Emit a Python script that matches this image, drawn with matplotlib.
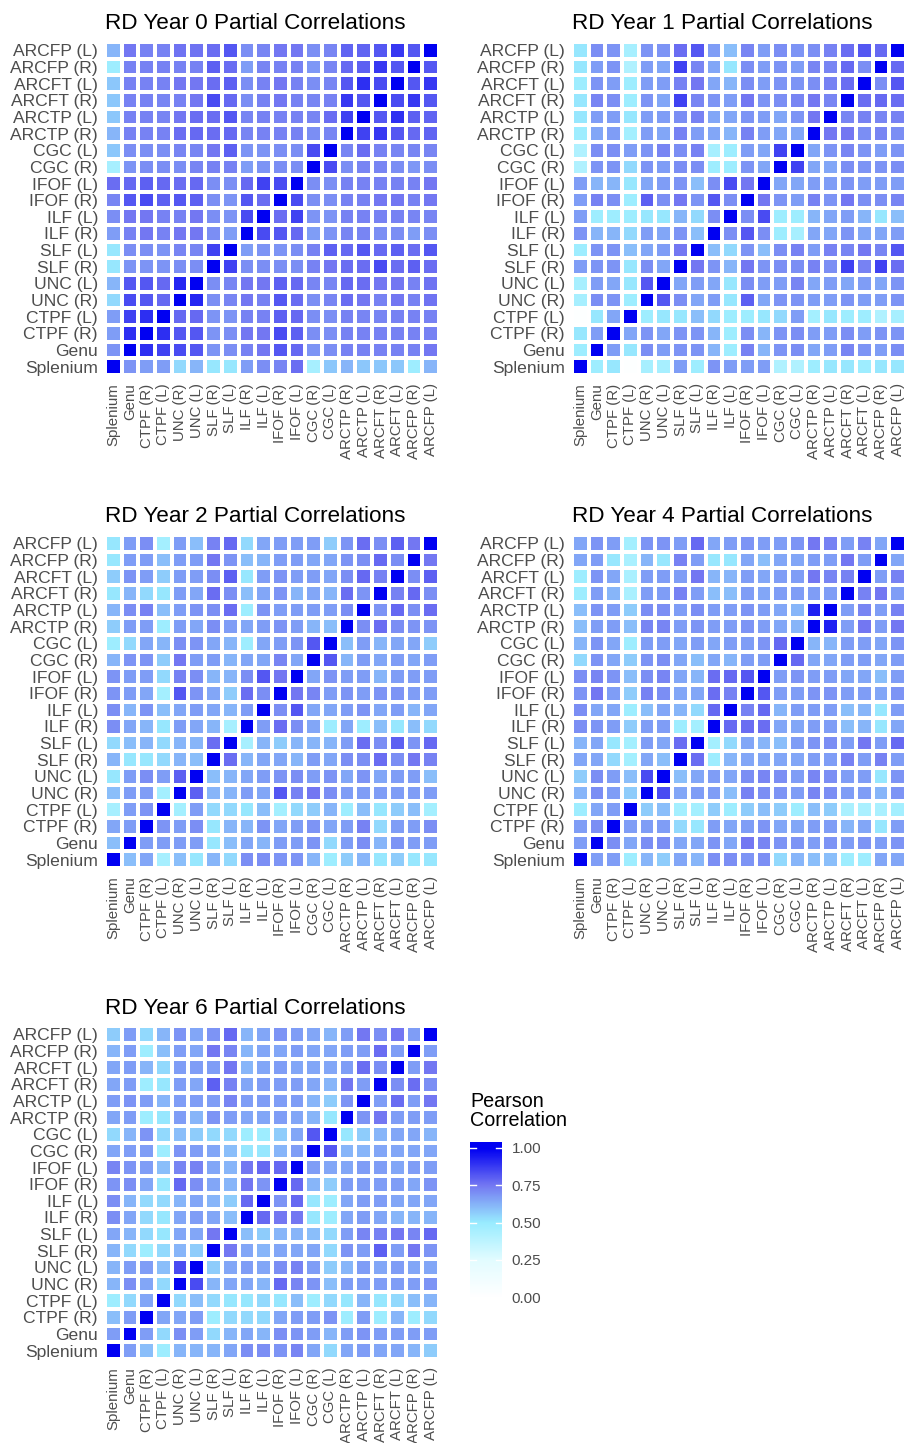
import numpy as np
import matplotlib
matplotlib.use('Agg')
import matplotlib.pyplot as plt
from matplotlib.colors import LinearSegmentedColormap

plt.rcParams['font.family'] = ['Liberation Sans', 'DejaVu Sans']

# tract order along x (left->right) and y (bottom->top)
tracts = ['Splenium', 'Genu', 'CTPF (R)', 'CTPF (L)', 'UNC (R)', 'UNC (L)',
          'SLF (R)', 'SLF (L)', 'ILF (R)', 'ILF (L)', 'IFOF (R)', 'IFOF (L)',
          'CGC (R)', 'CGC (L)', 'ARCTP (R)', 'ARCTP (L)', 'ARCFT (R)', 'ARCFT (L)',
          'ARCFP (R)', 'ARCFP (L)']

# lower triangles: row j holds the correlations of tract j with tracts 0..j-1
rd_year0 = [
    [0.69],
    [0.67, 0.90],
    [0.67, 0.86, 0.90],
    [0.54, 0.84, 0.82, 0.78],
    [0.62, 0.82, 0.82, 0.78, 0.92],
    [0.51, 0.69, 0.69, 0.69, 0.70, 0.70],
    [0.51, 0.70, 0.70, 0.69, 0.72, 0.72, 0.86],
    [0.67, 0.73, 0.75, 0.73, 0.75, 0.75, 0.70, 0.67],
    [0.70, 0.75, 0.75, 0.73, 0.73, 0.75, 0.70, 0.69, 0.84],
    [0.72, 0.82, 0.84, 0.80, 0.82, 0.80, 0.70, 0.69, 0.82, 0.77],
    [0.77, 0.78, 0.80, 0.78, 0.77, 0.78, 0.70, 0.70, 0.78, 0.86, 0.84],
    [0.45, 0.69, 0.70, 0.70, 0.70, 0.72, 0.73, 0.73, 0.67, 0.69, 0.70, 0.70],
    [0.58, 0.70, 0.70, 0.70, 0.72, 0.72, 0.75, 0.80, 0.69, 0.69, 0.70, 0.70, 0.84],
    [0.62, 0.73, 0.73, 0.73, 0.77, 0.78, 0.77, 0.78, 0.72, 0.73, 0.73, 0.73, 0.70, 0.72],
    [0.58, 0.73, 0.73, 0.72, 0.75, 0.77, 0.77, 0.82, 0.72, 0.73, 0.73, 0.73, 0.72, 0.77, 0.86],
    [0.58, 0.73, 0.73, 0.72, 0.73, 0.75, 0.84, 0.78, 0.70, 0.73, 0.75, 0.73, 0.72, 0.73, 0.88, 0.82],
    [0.58, 0.73, 0.73, 0.73, 0.75, 0.75, 0.77, 0.80, 0.70, 0.73, 0.75, 0.73, 0.70, 0.72, 0.82, 0.90, 0.84],
    [0.48, 0.73, 0.73, 0.73, 0.73, 0.73, 0.80, 0.77, 0.67, 0.72, 0.73, 0.73, 0.68, 0.72, 0.78, 0.80, 0.88, 0.82],
    [0.62, 0.75, 0.73, 0.73, 0.76, 0.76, 0.77, 0.82, 0.70, 0.72, 0.75, 0.75, 0.70, 0.72, 0.79, 0.79, 0.82, 0.88, 0.82],
]

rd_year1 = [
    [0.48],
    [0.51, 0.67],
    [0.02, 0.51, 0.65],
    [0.45, 0.70, 0.69, 0.48],
    [0.45, 0.67, 0.65, 0.51, 0.82],
    [0.67, 0.69, 0.69, 0.51, 0.70, 0.65],
    [0.48, 0.69, 0.69, 0.60, 0.65, 0.67, 0.75],
    [0.69, 0.62, 0.62, 0.54, 0.67, 0.65, 0.69, 0.60],
    [0.67, 0.48, 0.48, 0.48, 0.51, 0.51, 0.62, 0.54, 0.70],
    [0.67, 0.73, 0.70, 0.48, 0.80, 0.70, 0.75, 0.69, 0.82, 0.70],
    [0.67, 0.62, 0.62, 0.51, 0.65, 0.67, 0.69, 0.60, 0.70, 0.84, 0.75],
    [0.42, 0.69, 0.69, 0.54, 0.69, 0.67, 0.70, 0.70, 0.48, 0.48, 0.69, 0.65],
    [0.42, 0.70, 0.70, 0.67, 0.69, 0.72, 0.70, 0.73, 0.45, 0.48, 0.67, 0.65, 0.86],
    [0.48, 0.65, 0.67, 0.46, 0.67, 0.65, 0.73, 0.67, 0.65, 0.62, 0.73, 0.67, 0.65, 0.65],
    [0.51, 0.67, 0.67, 0.51, 0.67, 0.67, 0.70, 0.73, 0.65, 0.65, 0.69, 0.67, 0.65, 0.69, 0.75],
    [0.51, 0.72, 0.70, 0.48, 0.69, 0.65, 0.86, 0.72, 0.69, 0.67, 0.75, 0.69, 0.70, 0.72, 0.75, 0.72],
    [0.48, 0.69, 0.67, 0.48, 0.67, 0.67, 0.73, 0.75, 0.65, 0.62, 0.70, 0.67, 0.69, 0.69, 0.70, 0.73, 0.77],
    [0.51, 0.67, 0.69, 0.42, 0.67, 0.65, 0.86, 0.72, 0.65, 0.51, 0.70, 0.67, 0.69, 0.67, 0.72, 0.72, 0.78, 0.70],
    [0.51, 0.70, 0.69, 0.45, 0.69, 0.69, 0.77, 0.82, 0.67, 0.60, 0.72, 0.67, 0.70, 0.69, 0.70, 0.73, 0.77, 0.82, 0.78],
]

rd_year2 = [
    [0.60],
    [0.65, 0.67],
    [0.45, 0.67, 0.69],
    [0.60, 0.67, 0.67, 0.46],
    [0.51, 0.67, 0.70, 0.67, 0.80],
    [0.62, 0.51, 0.51, 0.54, 0.62, 0.60],
    [0.54, 0.60, 0.62, 0.54, 0.62, 0.62, 0.77],
    [0.70, 0.65, 0.62, 0.51, 0.67, 0.65, 0.62, 0.45],
    [0.70, 0.62, 0.69, 0.60, 0.65, 0.67, 0.65, 0.62, 0.67],
    [0.69, 0.67, 0.65, 0.46, 0.82, 0.69, 0.65, 0.57, 0.77, 0.70],
    [0.69, 0.67, 0.67, 0.54, 0.73, 0.70, 0.62, 0.62, 0.70, 0.82, 0.75],
    [0.62, 0.69, 0.69, 0.57, 0.75, 0.67, 0.67, 0.62, 0.65, 0.65, 0.72, 0.65],
    [0.48, 0.54, 0.65, 0.62, 0.70, 0.69, 0.65, 0.62, 0.48, 0.65, 0.67, 0.69, 0.82],
    [0.57, 0.67, 0.67, 0.48, 0.67, 0.65, 0.70, 0.67, 0.65, 0.67, 0.69, 0.67, 0.62, 0.60],
    [0.62, 0.70, 0.73, 0.60, 0.67, 0.69, 0.70, 0.77, 0.48, 0.69, 0.67, 0.67, 0.67, 0.67, 0.70],
    [0.51, 0.62, 0.54, 0.51, 0.67, 0.65, 0.77, 0.70, 0.60, 0.65, 0.69, 0.62, 0.65, 0.62, 0.77, 0.69],
    [0.57, 0.69, 0.67, 0.57, 0.67, 0.67, 0.70, 0.80, 0.51, 0.67, 0.69, 0.67, 0.67, 0.65, 0.70, 0.78, 0.73],
    [0.51, 0.67, 0.67, 0.60, 0.67, 0.67, 0.75, 0.69, 0.60, 0.62, 0.67, 0.67, 0.65, 0.65, 0.69, 0.70, 0.78, 0.70],
    [0.51, 0.67, 0.70, 0.46, 0.67, 0.60, 0.73, 0.78, 0.54, 0.65, 0.67, 0.67, 0.67, 0.57, 0.69, 0.77, 0.70, 0.80, 0.75],
]

rd_year4 = [
    [0.67],
    [0.67, 0.70],
    [0.48, 0.65, 0.67],
    [0.62, 0.70, 0.67, 0.57],
    [0.57, 0.70, 0.67, 0.60, 0.84],
    [0.65, 0.65, 0.54, 0.46, 0.65, 0.60],
    [0.62, 0.65, 0.51, 0.46, 0.67, 0.65, 0.77],
    [0.70, 0.69, 0.67, 0.57, 0.67, 0.67, 0.48, 0.46],
    [0.70, 0.65, 0.65, 0.48, 0.60, 0.65, 0.62, 0.54, 0.78],
    [0.69, 0.75, 0.67, 0.57, 0.73, 0.70, 0.65, 0.65, 0.77, 0.73],
    [0.70, 0.72, 0.69, 0.60, 0.70, 0.72, 0.65, 0.62, 0.77, 0.78, 0.82],
    [0.54, 0.69, 0.65, 0.57, 0.69, 0.70, 0.65, 0.60, 0.65, 0.62, 0.67, 0.67],
    [0.62, 0.69, 0.65, 0.48, 0.67, 0.67, 0.65, 0.67, 0.65, 0.67, 0.67, 0.69, 0.78],
    [0.60, 0.67, 0.67, 0.60, 0.72, 0.72, 0.67, 0.69, 0.67, 0.67, 0.69, 0.67, 0.65, 0.62],
    [0.60, 0.69, 0.67, 0.57, 0.70, 0.70, 0.67, 0.70, 0.67, 0.67, 0.69, 0.67, 0.65, 0.62, 0.93],
    [0.48, 0.67, 0.62, 0.44, 0.67, 0.67, 0.73, 0.67, 0.60, 0.60, 0.67, 0.65, 0.67, 0.67, 0.67, 0.67],
    [0.48, 0.69, 0.65, 0.44, 0.67, 0.67, 0.67, 0.75, 0.62, 0.62, 0.67, 0.65, 0.67, 0.67, 0.75, 0.72, 0.73],
    [0.65, 0.67, 0.51, 0.44, 0.62, 0.51, 0.73, 0.67, 0.51, 0.51, 0.65, 0.60, 0.65, 0.65, 0.67, 0.67, 0.75, 0.67],
    [0.65, 0.69, 0.67, 0.46, 0.69, 0.69, 0.67, 0.78, 0.65, 0.67, 0.69, 0.67, 0.67, 0.69, 0.75, 0.73, 0.67, 0.73, 0.65],
]

rd_year6 = [
    [0.67],
    [0.60, 0.67],
    [0.48, 0.54, 0.65],
    [0.62, 0.70, 0.65, 0.54],
    [0.62, 0.67, 0.67, 0.60, 0.84],
    [0.62, 0.54, 0.48, 0.54, 0.62, 0.57],
    [0.65, 0.62, 0.54, 0.51, 0.65, 0.65, 0.75],
    [0.70, 0.65, 0.54, 0.51, 0.65, 0.67, 0.65, 0.60],
    [0.70, 0.62, 0.54, 0.54, 0.62, 0.65, 0.62, 0.57, 0.78],
    [0.69, 0.70, 0.65, 0.51, 0.78, 0.70, 0.65, 0.62, 0.75, 0.69],
    [0.72, 0.69, 0.67, 0.60, 0.72, 0.73, 0.65, 0.62, 0.75, 0.78, 0.78],
    [0.65, 0.67, 0.67, 0.48, 0.69, 0.67, 0.65, 0.60, 0.51, 0.51, 0.62, 0.67],
    [0.54, 0.62, 0.69, 0.54, 0.60, 0.57, 0.54, 0.54, 0.48, 0.48, 0.57, 0.65, 0.82],
    [0.65, 0.67, 0.48, 0.51, 0.67, 0.62, 0.69, 0.67, 0.65, 0.65, 0.67, 0.65, 0.62, 0.51],
    [0.67, 0.69, 0.67, 0.62, 0.67, 0.67, 0.67, 0.72, 0.67, 0.67, 0.67, 0.67, 0.62, 0.57, 0.69],
    [0.65, 0.67, 0.48, 0.51, 0.67, 0.65, 0.80, 0.73, 0.65, 0.67, 0.67, 0.67, 0.65, 0.62, 0.75, 0.67],
    [0.65, 0.67, 0.62, 0.54, 0.67, 0.67, 0.67, 0.75, 0.62, 0.65, 0.67, 0.65, 0.65, 0.65, 0.67, 0.77, 0.70],
    [0.62, 0.67, 0.48, 0.60, 0.67, 0.65, 0.75, 0.72, 0.62, 0.65, 0.65, 0.67, 0.65, 0.65, 0.67, 0.67, 0.77, 0.67],
    [0.57, 0.67, 0.54, 0.62, 0.69, 0.65, 0.69, 0.78, 0.62, 0.65, 0.69, 0.67, 0.65, 0.62, 0.67, 0.75, 0.70, 0.75, 0.67],
]

years = ['0', '1', '2', '4', '6']
lowers = [rd_year0, rd_year1, rd_year2, rd_year4, rd_year6]


def full_matrix(lower):
    mat = np.eye(len(tracts))
    for j, row in enumerate(lower, start=1):
        mat[j, :j] = row
        mat[:j, j] = row
    return mat


corr_cmap = LinearSegmentedColormap.from_list(
    'corr', [(0.0, '#FFFFFF'), (0.25, '#E2FCFF'), (0.5, '#98ECFF'),
             (0.75, '#7478F2'), (1.0, '#0000F2')])

W, H = 912, 1443
fig = plt.figure(figsize=(W / 100, H / 100), dpi=100)


def px_axes(left, top, width, height):
    return fig.add_axes([left / W, 1 - (top + height) / H, width / W, height / H])


spots = [(105, 42), (572, 42), (105, 535), (572, 535), (105, 1026)]
edges = np.arange(len(tracts) + 1) - 0.5
grey = '#4D4D4D'

for year, lower, (left, top) in zip(years, lowers, spots):
    ax = px_axes(left, top, 334, 333)
    ax.pcolormesh(edges, edges, full_matrix(lower), cmap=corr_cmap, vmin=0, vmax=1,
                  edgecolors='white', linewidth=1.6)
    ax.set_xlim(-0.5, 19.5)
    ax.set_ylim(-0.5, 19.5)
    ax.set_xticks(range(len(tracts)))
    ax.set_xticklabels(tracts, rotation=90, fontsize=10.8, color=grey)
    ax.set_yticks(range(len(tracts)))
    ax.set_yticklabels(tracts, fontsize=12.6, color=grey)
    ax.tick_params(axis='x', length=0, pad=6)
    ax.tick_params(axis='y', length=0, pad=5)
    for s in ax.spines.values():
        s.set_visible(False)
    ax.set_title('RD Year %s Partial Correlations' % year, loc='left', fontsize=16.2, pad=9)

# colour bar legend
cax = px_axes(470, 1142, 32, 161)
grad = np.linspace(-0.04, 1.04, 300)[:, None]
cax.imshow(grad, extent=[0, 1, -0.04, 1.04], origin='lower', aspect='auto',
           cmap=corr_cmap, vmin=0, vmax=1)
ticks = [0, 0.25, 0.5, 0.75, 1.0]
for t in ticks:
    cax.plot([0, 0.2], [t, t], color='white', lw=1)
    cax.plot([0.8, 1], [t, t], color='white', lw=1)
cax.set_xlim(0, 1)
cax.set_ylim(-0.04, 1.04)
cax.set_xticks([])
cax.yaxis.tick_right()
cax.set_yticks(ticks)
cax.set_yticklabels(['%.2f' % t for t in ticks], fontsize=11, color=grey)
cax.tick_params(length=0, pad=7)
for s in cax.spines.values():
    s.set_visible(False)
fig.text(470 / W, 1 - 1092 / H, 'Pearson\nCorrelation', fontsize=14.2, va='top',
         ha='left', linespacing=1.0)

fig.savefig('out.png', dpi=100)
